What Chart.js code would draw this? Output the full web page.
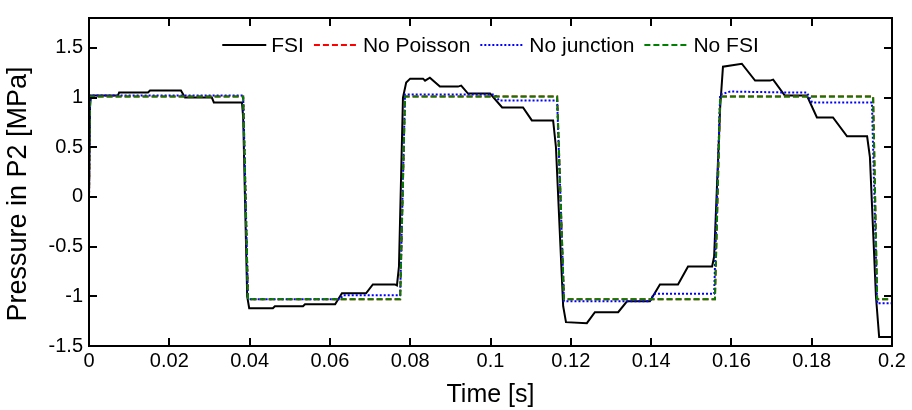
<!DOCTYPE html>
<html>
<head>
<meta charset="utf-8">
<script src="https://cdn.jsdelivr.net/npm/chart.js@4.4.1/dist/chart.umd.min.js"></script>
<style>
    html, body { margin: 0; padding: 0; background: #fff; }
    #wrap { width: 912px; height: 410px; }
</style>
</head>
<body>
<div id="wrap"><canvas id="pressure-chart" width="912" height="410"></canvas></div>
<script>
// --- DATA (time in s, pressure in MPa) ---
const fsiTime = [0, 0.00025, 0.0005, 0.0072, 0.0075, 0.0147, 0.0152, 0.0229, 0.0239, 0.0306, 0.0311, 0.0381,
    0.0384, 0.0394, 0.0399, 0.0458, 0.0463, 0.0533, 0.0538, 0.0613, 0.0630, 0.0690, 0.0707, 0.0762, 0.0767,
    0.0772, 0.0782, 0.0790, 0.0800, 0.0832, 0.0837, 0.0849, 0.0874, 0.0919, 0.0927, 0.0944, 0.0999, 0.1029,
    0.1081, 0.1103, 0.1156, 0.1163, 0.1181, 0.1188, 0.1240, 0.1260, 0.1318, 0.1340, 0.1397, 0.1422, 0.1467,
    0.1492, 0.1552, 0.1557, 0.1572, 0.1579, 0.1626, 0.1659, 0.1696, 0.1704, 0.1733, 0.1788, 0.1813, 0.1853,
    0.1888, 0.1938, 0.1945, 0.1960, 0.1968, 0.2];
const fsiPressure = [0, 0.9, 1.02, 1.02, 1.05, 1.05, 1.07, 1.07, 1.0, 1.0, 0.95, 0.95,
    0.8, -1.0, -1.12, -1.12, -1.10, -1.10, -1.08, -1.08, -0.97, -0.97, -0.88, -0.88, -0.89,
    -0.7, 1.0, 1.15, 1.19, 1.19, 1.17, 1.2, 1.11, 1.11, 1.12, 1.04, 1.04, 0.9,
    0.9, 0.77, 0.77, 0.5, -1.1, -1.26, -1.27, -1.16, -1.16, -1.05, -1.05, -0.88, -0.88,
    -0.70, -0.70, -0.6, 0.9, 1.31, 1.34, 1.17, 1.17, 1.18, 1.02, 1.02, 0.80, 0.80,
    0.61, 0.61, 0.4, -1.0, -1.41, -1.41];

const noPoissonTime = [0, 0.00025, 0.0384, 0.0396, 0.0775, 0.0787, 0.1166, 0.1183, 0.1559, 0.1572, 0.1953, 0.1963, 0.2];
const noPoissonPressure = [0, 1.01, 1.01, -1.03, -1.03, 1.01, 1.01, -1.03, -1.03, 1.01, 1.01, -1.03, -1.03];

const noJunctionTime = [0, 0.00025, 0.0384, 0.0396, 0.0625, 0.0633, 0.0775, 0.0787, 0.1011, 0.1021, 0.1166,
    0.1183, 0.1397, 0.1407, 0.1557, 0.1572, 0.1597, 0.1746, 0.1788, 0.1801, 0.1950, 0.1963, 0.2];
const noJunctionPressure = [0, 1.02, 1.02, -1.03, -1.03, -0.99, -0.99, 1.03, 1.03, 0.97, 0.97,
    -1.05, -1.05, -0.975, -0.975, 1.03, 1.06, 1.05, 1.05, 0.95, 0.95, -1.07, -1.07];

const noFsiTime = [0, 0.00025, 0.0384, 0.0396, 0.0775, 0.0787, 0.1166, 0.1183, 0.1559, 0.1572, 0.1953, 0.1963, 0.2];
const noFsiPressure = [0, 1.01, 1.01, -1.03, -1.03, 1.01, 1.01, -1.03, -1.03, 1.01, 1.01, -1.03, -1.03];

const xTicks = [0, 0.02, 0.04, 0.06, 0.08, 0.1, 0.12, 0.14, 0.16, 0.18, 0.2];
const xTickLabels = ['0', '0.02', '0.04', '0.06', '0.08', '0.1', '0.12', '0.14', '0.16', '0.18', '0.2'];
const yTicks = [-1.5, -1, -0.5, 0, 0.5, 1, 1.5];
const yTickLabels = ['-1.5', '-1', '-0.5', '0', '0.5', '1', '1.5'];

const FONT = '"Liberation Sans", Arial, sans-serif';
const Y_TITLE = 'Pressure in P2 [MPa]';

const toPoints = (ts, ps) => ts.map((t, i) => ({ x: t, y: ps[i] }));

// box frame, inward ticks, y title and the legend inside the plot
const framePlugin = {
    id: 'frame',
    afterDatasetsDraw(chart) {
        const { ctx, chartArea: a, scales: { x, y } } = chart;
        ctx.save();
        ctx.strokeStyle = '#000';
        ctx.lineWidth = 2;
        ctx.setLineDash([]);
        ctx.strokeRect(a.left, a.top, a.right - a.left, a.bottom - a.top);
        ctx.beginPath();
        xTicks.forEach(v => {
            const px = Math.round(x.getPixelForValue(v));
            ctx.moveTo(px, a.bottom); ctx.lineTo(px, a.bottom - 8);
            ctx.moveTo(px, a.top); ctx.lineTo(px, a.top + 8);
        });
        yTicks.forEach(v => {
            const py = Math.round(y.getPixelForValue(v));
            ctx.moveTo(a.left, py); ctx.lineTo(a.left + 8, py);
            ctx.moveTo(a.right, py); ctx.lineTo(a.right - 8, py);
        });
        ctx.stroke();

        // y axis title (placed a little below the middle, like the original)
        ctx.save();
        ctx.translate(19, 194);
        ctx.rotate(-Math.PI / 2);
        ctx.font = '27px ' + FONT;
        ctx.fillStyle = '#000';
        ctx.textAlign = 'center';
        ctx.textBaseline = 'middle';
        ctx.fillText(Y_TITLE, 0, 0);
        ctx.restore();

        // legend
        ctx.font = '21px ' + FONT;
        const lineLen = 44, gapText = 5, gapItem = 10;
        const items = chart.data.datasets.map(d => ({ d, w: ctx.measureText(d.label).width }));
        const total = items.reduce((s, it) => s + lineLen + gapText + it.w, 0) + gapItem * (items.length - 1);
        let cx = (a.left + a.right) / 2 - total / 2;
        const cy = a.top + 27;
        items.forEach(it => {
            ctx.strokeStyle = it.d.borderColor;
            ctx.lineWidth = 2;
            ctx.setLineDash(it.d.borderDash || []);
            ctx.beginPath();
            ctx.moveTo(cx, cy);
            ctx.lineTo(cx + lineLen, cy);
            ctx.stroke();
            ctx.setLineDash([]);
            ctx.fillStyle = '#000';
            ctx.textAlign = 'left';
            ctx.textBaseline = 'middle';
            ctx.fillText(it.d.label, cx + lineLen + gapText, cy + 1);
            cx += lineLen + gapText + it.w + gapItem;
        });
        ctx.restore();
    }
};

const lineStyle = { pointRadius: 0, borderWidth: 2, tension: 0, fill: false };

new Chart(document.getElementById('pressure-chart').getContext('2d'), {
    type: 'line',
    data: {
        datasets: [
            { ...lineStyle, label: 'FSI', data: toPoints(fsiTime, fsiPressure), borderColor: '#000000', order: 4 },
            { ...lineStyle, label: 'No Poisson', data: toPoints(noPoissonTime, noPoissonPressure), borderColor: '#ff0000', borderDash: [6, 3], order: 3 },
            { ...lineStyle, label: 'No junction', data: toPoints(noJunctionTime, noJunctionPressure), borderColor: '#0000ff', borderDash: [2, 2], order: 2 },
            { ...lineStyle, label: 'No FSI', data: toPoints(noFsiTime, noFsiPressure), borderColor: '#008000', borderDash: [6, 3], order: 1 }
        ]
    },
    options: {
        responsive: false,
        devicePixelRatio: 1,
        animation: false,
        layout: { padding: { top: 5, right: 20, left: 0, bottom: 0 } },
        plugins: { legend: { display: false }, tooltip: { enabled: false } },
        scales: {
            x: {
                type: 'linear',
                min: 0,
                max: 0.2,
                afterBuildTicks: s => { s.ticks = xTicks.map(v => ({ value: v })); },
                afterFit: s => { s.height = 64; },
                grid: { display: false, drawTicks: false },
                border: { display: false },
                ticks: {
                    callback: (v, i) => xTickLabels[i],
                    color: '#000',
                    font: { family: FONT, size: 20 },
                    padding: 3,
                    maxRotation: 0,
                    autoSkip: false
                },
                title: { display: true, text: 'Time [s]', color: '#000', font: { family: FONT, size: 25 }, padding: { top: 5, bottom: 0 } }
            },
            y: {
                type: 'linear',
                min: -1.5,
                max: 1.8,
                afterBuildTicks: s => { s.ticks = yTicks.map(v => ({ value: v })); },
                afterFit: s => { s.width = 89; },
                grid: { display: false, drawTicks: false },
                border: { display: false },
                ticks: {
                    callback: (v, i) => yTickLabels[i],
                    color: '#000',
                    font: { family: FONT, size: 20 },
                    padding: 6,
                    autoSkip: false
                },
                title: { display: false }
            }
        }
    },
    plugins: [framePlugin]
});
</script>
</body>
</html>
